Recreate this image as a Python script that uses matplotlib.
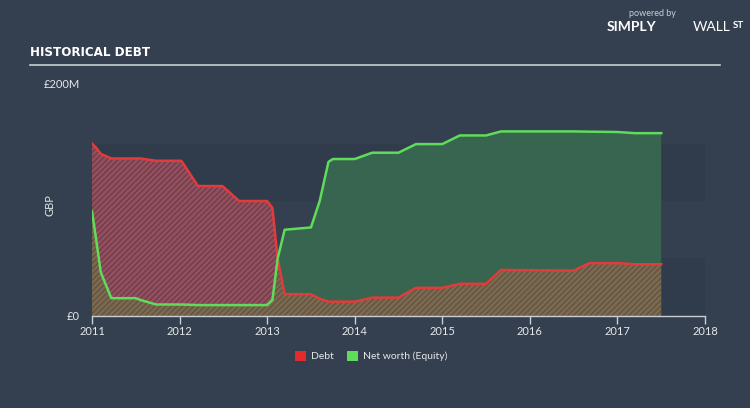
import matplotlib
matplotlib.use("Agg")
import matplotlib.pyplot as plt
from matplotlib.patches import Patch
import numpy as np

plt.rcParams['font.family'] = ['Lato', 'DejaVu Sans']

# data (GBP millions)
years = [2011.0, 2011.05, 2011.1, 2011.22, 2011.5, 2011.55, 2011.73, 2012.02, 2012.21,
         2012.49, 2012.68, 2013.0, 2013.06, 2013.12, 2013.2, 2013.5, 2013.6, 2013.7,
         2013.75, 2014.0, 2014.2, 2014.5, 2014.7, 2015.0, 2015.2, 2015.5, 2015.67,
         2016.5, 2016.68, 2017.0, 2017.2, 2017.5]
debt = [150, 146, 141, 137, 137, 137, 135, 135, 113,
        113, 100, 100, 94, 50, 19, 19, 15, 12.5,
        12.5, 12.5, 16, 16, 24.5, 24.5, 28, 28, 40,
        39.5, 46, 46, 45, 45]
equity = [91, 65, 38, 15.5, 15.5, 14, 10, 10, 9.5,
          9.5, 9.5, 9.5, 14, 50, 75, 77, 100, 134,
          136.5, 136.5, 142, 142, 149.5, 149.5, 157, 157, 160.5,
          160.5, 160.3, 160, 159, 159]
year_ticks = [2011, 2012, 2013, 2014, 2015, 2016, 2017, 2018]

bg = '#344050'
x = np.array(years)
d = np.array(debt, dtype=float)
e = np.array(equity, dtype=float)

fig = plt.figure(figsize=(7.5, 4.08), dpi=100, facecolor=bg)
ax = fig.add_axes([0.1227, 0.2255, 0.8173, 0.5637])
ax.set_facecolor(bg)
ax.set_xlim(2011, 2018)
ax.set_ylim(0, 200)

# subtle background bands
for lo, hi in [(0, 50), (100, 150)]:
    ax.axhspan(lo, hi, color='#303c4b', lw=0, zorder=0)

plt.rcParams['hatch.linewidth'] = 0.8
# overlap area (below both lines)
ax.fill_between(x, 0, np.minimum(d, e), facecolor='#7b6a4f', edgecolor='#5e5040',
                hatch='//////', linewidth=0, zorder=1)
# debt above equity
ax.fill_between(x, e, d, where=d > e, interpolate=True, facecolor='#92505f',
                edgecolor='#6c3846', hatch='//////', linewidth=0, zorder=1)
# equity above debt
ax.fill_between(x, d, e, where=e > d, interpolate=True, facecolor='#37654f',
                linewidth=0, zorder=1)

ax.plot(x, d, color='#e23b3b', lw=1.8, zorder=3, solid_joinstyle='round')
ax.plot(x, e, color='#5fdc5a', lw=1.8, zorder=3, solid_joinstyle='round')

for s in ['top', 'right', 'left']:
    ax.spines[s].set_visible(False)
ax.spines['bottom'].set_color('#c9ced4')
ax.spines['bottom'].set_linewidth(1)
ax.set_xticks(year_ticks)
ax.set_xticklabels([str(t) for t in year_ticks])
ax.tick_params(axis='x', colors='#c9ced4', labelcolor='#e4e7ea', labelsize=8,
               length=6, width=1, pad=1)
ax.set_yticks([])

fig.text(80 / 750, 1 - 316 / 408, '£0', color='#e4e7ea', fontsize=8, ha='right', va='center')
fig.text(80 / 750, 1 - 85 / 408, '£200M', color='#e4e7ea', fontsize=8, ha='right', va='center')
fig.text(50 / 750, 1 - 205 / 408, 'GBP', color='#e4e7ea', fontsize=8, rotation=90,
         ha='center', va='center')

# header
fig.text(30 / 750, 1 - 53 / 408, 'HISTORICAL DEBT', color='white', fontsize=9.5,
         fontweight='bold', fontstretch='condensed',
         family=['Liberation Sans Narrow', 'DejaVu Sans'], ha='left', va='center')
fig.add_artist(plt.Line2D([30 / 750, 720 / 750], [1 - 65 / 408, 1 - 65 / 408],
                          color='#c9ced4', lw=1.2))
fig.text(652 / 750, 1 - 14 / 408, 'powered by', color='#c9ced4', fontsize=6.5,
         ha='center', va='center')
fig.text(632 / 750, 1 - 27 / 408, 'SIMPLY', color='white', fontsize=10,
         fontweight='bold', ha='center', va='center')
fig.text(712 / 750, 1 - 27 / 408, 'WALL', color='white', fontsize=10,
         ha='center', va='center')
fig.text(738 / 750, 1 - 25 / 408, 'ST', color='white', fontsize=7,
         fontweight='bold', ha='center', va='center')

handles = [Patch(facecolor='#e42a2a', edgecolor='none', label='Debt'),
           Patch(facecolor='#5fdc5a', edgecolor='none', label='Net worth (Equity)')]
leg = fig.legend(handles=handles, loc='center', bbox_to_anchor=(0.495, 1 - 356 / 408),
                 ncol=2, frameon=False, fontsize=7.5, handlelength=1.1,
                 handleheight=1.1, columnspacing=1.2, handletextpad=0.5)
for t in leg.get_texts():
    t.set_color('#e4e7ea')

fig.savefig('out.png', dpi=100, facecolor=bg)
